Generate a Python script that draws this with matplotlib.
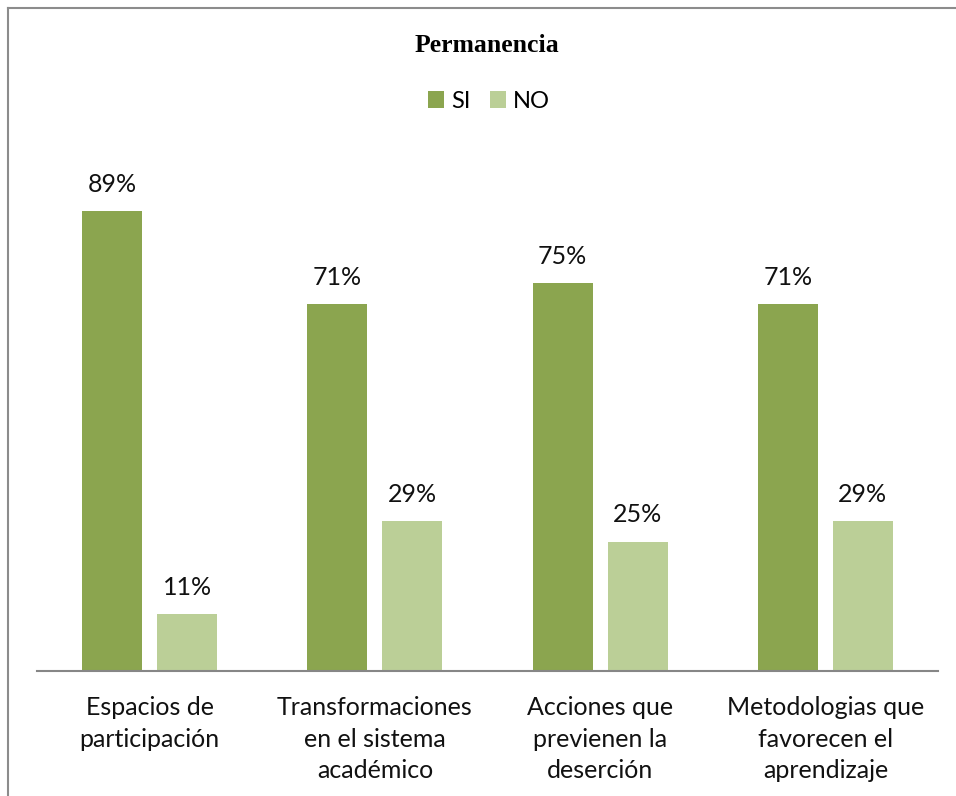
import numpy as np
import matplotlib.pyplot as plt
from matplotlib.lines import Line2D

# Data
categories = ['Espacios de\nparticipación', 'Transformaciones\nen el sistema\nacadémico',
              'Acciones que\nprevienen la\ndeserción', 'Metodologias que\nfavorecen el\naprendizaje']
si_values = [89, 71, 75, 71]
no_values = [11, 29, 25, 29]

color_si = '#8ba54f'
color_no = '#bbcf97'
label_font = 'Lato'

W, H = 956, 796
fig = plt.figure(figsize=(W / 100, H / 100), dpi=100)
ax = fig.add_axes([37 / W, 125 / H, (938 - 37) / W, (671 - 154) / H])

x = np.arange(len(categories))
bw = 0.266
off = 0.1665
bars_si = ax.bar(x - off, si_values, bw, color=color_si, label='SI')
bars_no = ax.bar(x + off, no_values, bw, color=color_no, label='NO')

for bars in (bars_si, bars_no):
    for b in bars:
        ax.annotate(f'{b.get_height():.0f}%', (b.get_x() + b.get_width() / 2, b.get_height()),
                    xytext=(0, 11), textcoords='offset points', ha='center', va='bottom',
                    fontsize=18, family=label_font, color='#111111')

ax.set_xlim(-0.5, len(categories) - 0.5)
ax.set_ylim(0, 100)
ax.set_yticks([])
ax.set_xticks(x)
ax.set_xticklabels(categories, fontsize=18, family=label_font, linespacing=1.45, color='#111111')
ax.tick_params(axis='x', length=0, pad=18)
for s in ['top', 'right', 'left']:
    ax.spines[s].set_visible(False)
ax.spines['bottom'].set_color('#868686')
ax.spines['bottom'].set_linewidth(1.5)

fig.text(487 / W, 1 - 46 / H, 'Permanencia', ha='center', va='center',
         fontsize=18.5, fontweight='bold', family='Liberation Serif')

fig.legend(handles=[bars_si, bars_no], labels=['SI', 'NO'], loc='center',
           bbox_to_anchor=(489 / W, 1 - 101 / H), ncol=2, frameon=False,
           prop={'family': label_font, 'size': 17}, handlelength=0.7, handleheight=0.7,
           handletextpad=0.3, columnspacing=0.8, borderpad=0)

# chart border (left and top visible)
fig.add_artist(Line2D([7.5 / W, 7.5 / W], [0, 1 - 7.5 / H], transform=fig.transFigure,
                      color='#8c8c8c', lw=1.5))
fig.add_artist(Line2D([7.5 / W, 1], [1 - 7.5 / H, 1 - 7.5 / H], transform=fig.transFigure,
                      color='#8c8c8c', lw=1.5))

fig.savefig('out.png', dpi=100)
